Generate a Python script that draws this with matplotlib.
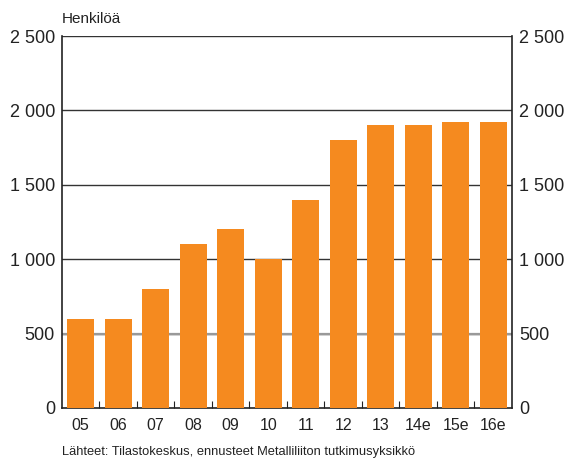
import matplotlib
matplotlib.use("Agg")
import matplotlib.pyplot as plt
import numpy as np

categories = ["05", "06", "07", "08", "09", "10", "11", "12", "13", "14e", "15e", "16e"]
values = [600, 600, 800, 1100, 1200, 1000, 1400, 1800, 1900, 1900, 1920, 1920]
yticks = [0, 500, 1000, 1500, 2000, 2500]
ytick_labels = ["0", "500", "1 000", "1 500", "2 000", "2 500"]

plt.rcParams["font.family"] = ["Liberation Sans", "DejaVu Sans"]

fig = plt.figure(figsize=(5.67, 4.66), dpi=100)
ax = fig.add_axes([0.1093, 0.1245, 0.7937, 0.7982])
x = np.arange(len(categories))
ax.bar(x, values, width=0.72, color="#F58A1F", zorder=3)
ax.set_xlim(-0.5, len(categories) - 0.5)
ax.set_ylim(0, 2500)
for y in yticks[1:]:
    ax.axhline(y, color="#333333", lw=1.0, zorder=1)
ax.axhline(500, color="#999999", lw=1.6, zorder=1)

ax.set_yticks(yticks)
ax.set_yticklabels(ytick_labels, fontsize=13, color="#222222")
ax.tick_params(axis="y", length=0, pad=5, labelright=True, right=False)
ax.set_xticks(x)
ax.set_xticklabels(categories, fontsize=11.5, color="#222222")
ax.tick_params(axis="x", which="major", length=0, pad=7)
ax.set_xticks(np.arange(0.5, len(categories) - 1, 1), minor=True)
ax.tick_params(axis="x", which="minor", direction="in", length=5, width=0.8, color="#222222")

ax.spines["top"].set_visible(False)
for s in ["left", "right", "bottom"]:
    ax.spines[s].set_color("#222222")
    ax.spines[s].set_linewidth(1.2)

fig.text(0.1093, 0.945, "Henkilöä", fontsize=11, color="#222222", ha="left", va="bottom")
fig.text(0.1093, 0.017, "Lähteet: Tilastokeskus, ennusteet Metalliliiton tutkimusyksikkö",
         fontsize=9.3, color="#222222", ha="left", va="bottom")

fig.savefig("out.png", dpi=100)
